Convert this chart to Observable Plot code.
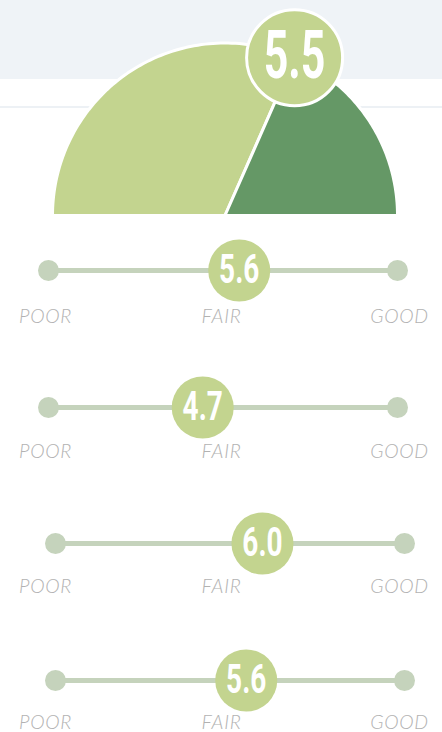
<!DOCTYPE html>
<html><head><meta charset="utf-8">
<script src="https://cdn.jsdelivr.net/npm/d3@7"></script>
<script src="https://cdn.jsdelivr.net/npm/@observablehq/plot@0.6"></script>
<style>
html,body{margin:0;padding:0;background:#fff;}
#chart{width:442px;background-image:linear-gradient(to bottom,#eff3f7 0px,#eff3f7 79px,#ffffff 79px,#ffffff 106px,#edf1f5 106px,#edf1f5 108px,#ffffff 108px);background-repeat:no-repeat;background-size:442px 232px;}
#chart svg{display:block;}
</style></head><body><div id="chart"></div><script>
// ---- data ----
const gaugeValue = 5.5;
const gaugeDomain = [0, 8.7];
const sliderValues = [5.6, 4.7, 6.0, 5.6];
const sliderDomain = [0.9, 9.5];
const scaleLabels = ["POOR", "FAIR", "GOOD"];

// ---- style ----
const LIGHT = "#c3d48f", DARK = "#659866", TRACK = "#c5d3bc", LABEL = "#b2b2b2";
const VALUE_FONT = "Roboto, 'Liberation Sans', sans-serif";
const LABEL_FONT = "Lato, 'Open Sans', sans-serif";
const sliderRanges = [[48, 397], [48, 397], [55, 404], [55, 404]];
const sliderHeights = [137, 136, 137, 137];
const labelOffsets = [52, 50, 49, 48];
const labelNudge = [-3, -1.5, 2];

const chart = document.getElementById("chart");

function condense(svg, sx) {
  d3.select(svg).selectAll("text").filter(function () {
    return /^\d+\.\d$/.test(this.textContent.trim());
  }).each(function () {
    const t = this.getAttribute("transform");
    if (t) {
      this.setAttribute("transform", t + ` scale(${sx},1)`);
    } else {
      const x = +this.getAttribute("x") || 0, y = +this.getAttribute("y") || 0;
      this.removeAttribute("x"); this.removeAttribute("y");
      this.setAttribute("transform", `translate(${x},${y}) scale(${sx},1)`);
    }
  });
}

// ---- gauge ----
const frac = (gaugeValue - gaugeDomain[0]) / (gaugeDomain[1] - gaugeDomain[0]);
const split = Math.PI * (1 - frac);
function wedge(a0, a1) {
  const n = 90, pts = [{x: 0, y: 0}];
  for (let i = 0; i <= n; ++i) {
    const a = a0 + (a1 - a0) * i / n;
    pts.push({x: Math.cos(a), y: Math.sin(a)});
  }
  pts.push({x: 0, y: 0});
  return pts;
}
const tip = [{x: Math.cos(split), y: Math.sin(split), v: gaugeValue}];
const R = 172.5, CX = 224.5, CY = 215;
const gauge = Plot.plot({
  width: 442, height: 232, margin: 0,
  style: "background: transparent; overflow: visible;",
  x: {axis: null, domain: [-CX / R, (442 - CX) / R], range: [0, 442]},
  y: {axis: null, domain: [-(232 - CY) / R, CY / R], range: [232, 0]},
  marks: [
    Plot.line(wedge(Math.PI, split), {x: "x", y: "y", fill: LIGHT, stroke: "white", strokeWidth: 3, strokeLinejoin: "round"}),
    Plot.line(wedge(split, 0), {x: "x", y: "y", fill: DARK, stroke: "white", strokeWidth: 3, strokeLinejoin: "round"}),
    Plot.dot(tip, {x: "x", y: "y", r: 48, fill: LIGHT, stroke: "white", strokeWidth: 3}),
    Plot.text(tip, {x: "x", y: "y", text: d => d.v.toFixed(1), fill: "white", fontSize: 66, fontWeight: 700, fontFamily: VALUE_FONT, dy: -1})
  ]
});
condense(gauge, 0.65);
chart.appendChild(gauge);

// ---- sliders ----
sliderValues.forEach((v, i) => {
  const [lo, hi] = sliderDomain;
  const range = sliderRanges[i];
  const mid = (lo + hi) / 2;
  const shift = range[0] - sliderRanges[0][0];
  const labelX = [lo, mid, hi];
  const svg = Plot.plot({
    width: 442, height: sliderHeights[i], margin: 0,
    style: "background: transparent; overflow: visible;",
    x: {axis: null, domain: sliderDomain, range},
    y: {axis: null, domain: [0, 1], range: [38, 38 + labelOffsets[i]]},
    marks: [
      Plot.ruleY([0], {x1: lo, x2: hi, stroke: TRACK, strokeWidth: 5}),
      Plot.dot([lo, hi], {x: d => d, y: 0, r: 10.5, fill: TRACK}),
      Plot.dot([v], {x: d => d, y: 0, r: 31, fill: LIGHT}),
      Plot.text([v], {x: d => d, y: 0, text: d => d.toFixed(1), fill: "white", fontSize: 40, fontWeight: 700, fontFamily: VALUE_FONT}),
      ...scaleLabels.map((t, j) => Plot.text([t], {x: () => labelX[j], y: 1, text: d => d, dx: labelNudge[j] - shift, lineAnchor: "bottom", fill: LABEL, fontSize: 19.5, fontStyle: "italic", fontWeight: 300, fontFamily: LABEL_FONT}))
    ]
  });
  d3.select(svg).selectAll("text").filter(function () { return /^[A-Z]+$/.test(this.textContent); }).style("letter-spacing", "0.7px");
  condense(svg, 0.7);
  chart.appendChild(svg);
});
</script></body></html>
